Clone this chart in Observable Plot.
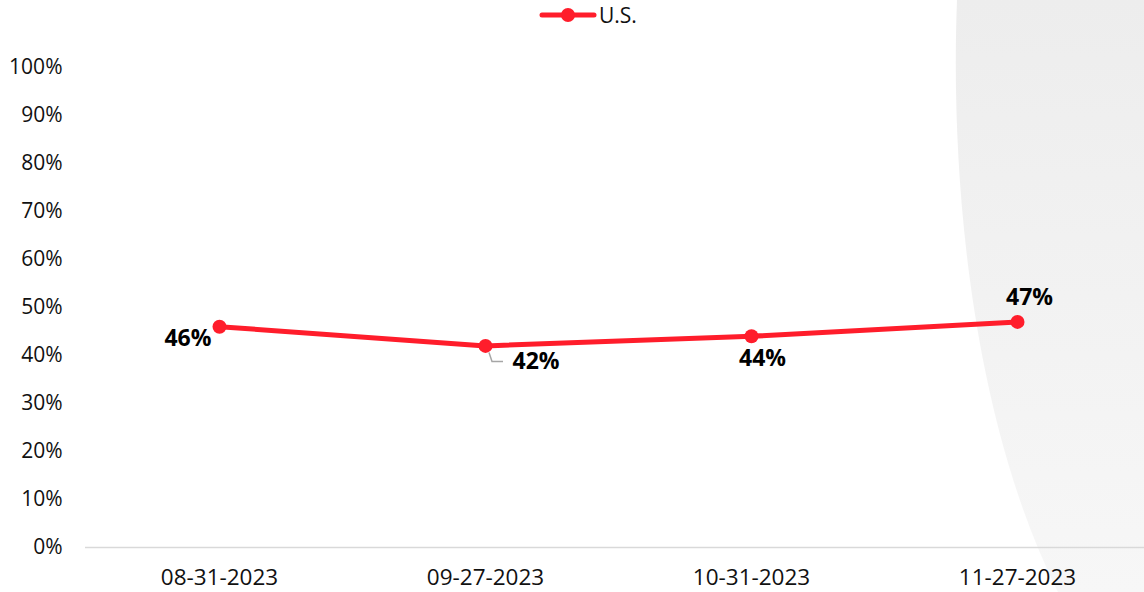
<!DOCTYPE html>
<html>
<head>
<meta charset="utf-8">
<script src="https://cdn.jsdelivr.net/npm/d3@7"></script>
<script src="https://cdn.jsdelivr.net/npm/@observablehq/plot@0.6"></script>
<style>
  html, body { margin: 0; padding: 0; background: #fff; }
  body { width: 1144px; height: 592px; position: relative; overflow: hidden; font-family: "Open Sans", sans-serif; }
  #bg { position: absolute; left: 0; top: 0; z-index: 0; }
  #legend { position: absolute; left: 538px; top: 2px; height: 26px; display: flex; align-items: center; z-index: 2; font-size: 21px; color: #111; }
  #chart { position: absolute; left: 0; top: 30px; z-index: 1; }
</style>
</head>
<body>
<svg id="bg" width="1144" height="592">
  <defs>
    <linearGradient id="g" x1="0" y1="0" x2="0" y2="1">
      <stop offset="0" stop-color="#ededed"/>
      <stop offset="1" stop-color="#f7f7f7"/>
    </linearGradient>
  </defs>
  <path d="M957,0 C950,180 972,420 1058,592 L1144,592 L1144,0 Z" fill="url(#g)"/>
</svg>
<div id="legend">
  <svg width="60" height="20"><line x1="4" y1="10" x2="56" y2="10" stroke="#ff1d2b" stroke-width="5" stroke-linecap="round"/><circle cx="30" cy="10" r="7" fill="#ff1d2b"/></svg>
  <span style="margin-left:1px">U.S.</span>
</div>
<div id="chart"></div>
<script>
const categories = ["08-31-2023", "09-27-2023", "10-31-2023", "11-27-2023"];
const seriesName = "U.S.";
const values = [0.46, 0.42, 0.44, 0.47];
const yTicks = [0, 0.1, 0.2, 0.3, 0.4, 0.5, 0.6, 0.7, 0.8, 0.9, 1.0];

const data = categories.map((c, i) => ({date: c, value: values[i], series: seriesName}));
const red = "#ff1d2b";
const fmt = d3.format(".0%");
const labelFont = {fontSize: 23, fontWeight: "bold", fill: "#000", fontFamily: "Open Sans"};

const leader = {
  render(index, scales, channels, dims, context) {
    const g = d3.select(context.document.createElementNS("http://www.w3.org/2000/svg", "g"));
    for (const i of index) {
      const x = channels.x[i], y = channels.y[i];
      g.append("path")
        .attr("d", `M${x + 4},${y + 7} L${x + 7},${y + 16} L${x + 18},${y + 16}`)
        .attr("fill", "none").attr("stroke", "#a6a6a6").attr("stroke-width", 1.5);
    }
    return g.node();
  }
};

const chart = Plot.plot({
  width: 1144,
  height: 562,
  marginTop: 37,
  marginBottom: 45,
  marginLeft: 85,
  marginRight: 0,
  style: {background: "transparent", fontFamily: "Open Sans", overflow: "visible"},
  x: {type: "point", domain: categories, padding: 0.5, range: [85, 1151], label: null},
  y: {domain: [0, 1], label: null},
  marks: [
    Plot.ruleY([0], {stroke: "#d9d9d9", strokeWidth: 1.5}),
    Plot.axisY({ticks: yTicks, tickFormat: fmt, tickSize: 0, tickPadding: 23, fontSize: 21, fill: "#111", fontFamily: "Open Sans", label: null}),
    Plot.axisX({tickSize: 0, tickPadding: 22, fontSize: 22.5, fill: "#111", fontFamily: "Open Sans", label: null}),
    Plot.line(data, {x: "date", y: "value", stroke: red, strokeWidth: 5, strokeLinejoin: "round"}),
    Plot.dot(data.filter((d, i) => i === 1), {x: "date", y: "value", ...leader}),
    Plot.dot(data, {x: "date", y: "value", r: 7, fill: red}),
    Plot.text(data.filter((d, i) => i === 0), {x: "date", y: "value", text: d => fmt(d.value), textAnchor: "end", dx: -8, dy: 12, ...labelFont}),
    Plot.text(data.filter((d, i) => i === 1), {x: "date", y: "value", text: d => fmt(d.value), textAnchor: "start", dx: 27, dy: 16, ...labelFont}),
    Plot.text(data.filter((d, i) => i === 2), {x: "date", y: "value", text: d => fmt(d.value), dx: 11, dy: 22, ...labelFont}),
    Plot.text(data.filter((d, i) => i === 3), {x: "date", y: "value", text: d => fmt(d.value), dx: 12, dy: -24, ...labelFont})
  ]
});
document.getElementById("chart").appendChild(chart);
</script>
</body>
</html>
